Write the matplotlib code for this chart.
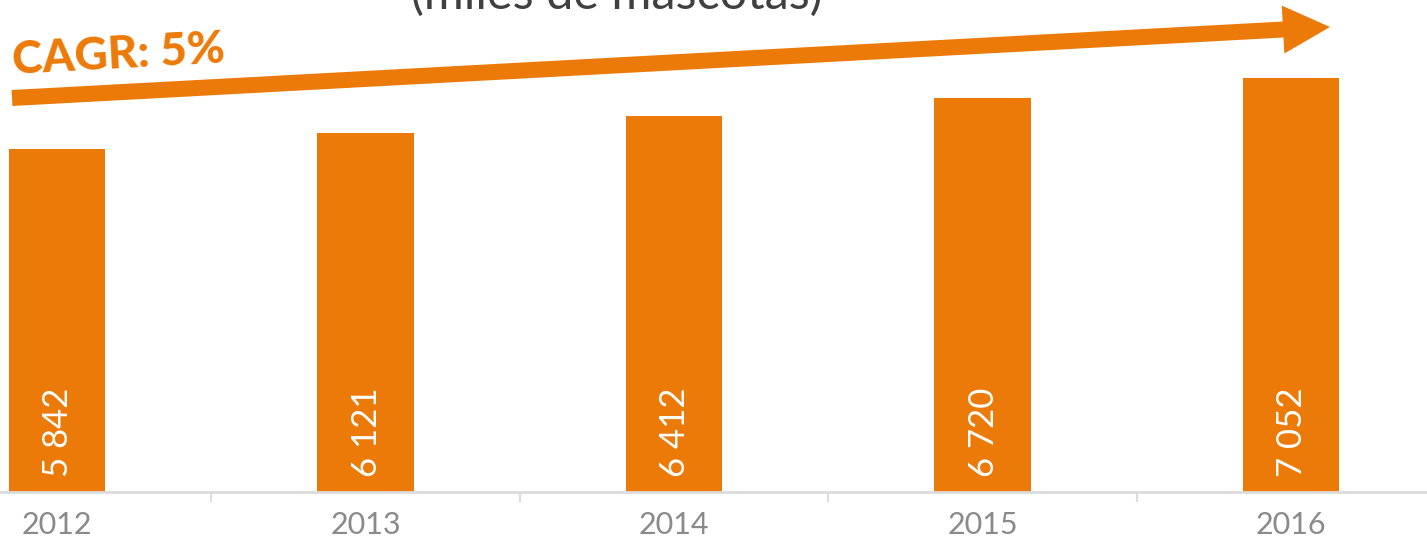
import matplotlib.pyplot as plt
from matplotlib.patches import FancyArrow

years = ["2012", "2013", "2014", "2015", "2016"]
pets = [5842, 6121, 6412, 6720, 7052]
title = "(miles de mascotas)"
cagr_label = "CAGR: 5%"

ORANGE = "#EC7A08"
GRID = "#dcdcdc"

plt.rcParams['font.family'] = ['Lato', 'DejaVu Sans']

fig = plt.figure(figsize=(14.27, 5.49), dpi=100)
ax = fig.add_axes([0, 57 / 549, 1, 492 / 549])

x = list(range(len(years)))
ax.bar(x, pets, width=0.312, color=ORANGE)

# values written inside each bar, bottom up
for xi, v in zip(x, pets):
    txt = f"{v:,}".replace(",", " ")
    ax.annotate(txt, (xi, 0), xytext=(1, 11), textcoords="offset points",
                rotation=90, ha="center", va="bottom", color="white",
                fontsize=25, fontweight="normal")

ax.set_xlim(-0.185, 4.441)
ax.set_ylim(0, 8382)
ax.set_xticks(x)
ax.set_xticklabels(years, fontsize=22, color="#8a8a8a", fontweight="normal")
ax.set_xticks([i + 0.5 for i in x[:-1]], minor=True)
ax.tick_params(axis="x", which="major", length=0, pad=14)
ax.tick_params(axis="x", which="minor", length=7, width=1.5, color=GRID)
ax.set_yticks([])
for side in ["top", "right", "left"]:
    ax.spines[side].set_visible(False)
ax.spines["bottom"].set_color(GRID)
ax.spines["bottom"].set_linewidth(2)

fig.text(617 / 1427, 1 - 9 / 549, title, ha="center", va="baseline",
         fontsize=35, color="#404040", fontweight="normal")

# growth arrow across the top, drawn in inches so it keeps its shape
arrow = FancyArrow(0.12, 4.51, 13.18, 0.71, width=0.16, head_width=0.48,
                   head_length=0.47, length_includes_head=True,
                   color=ORANGE, lw=0, transform=fig.dpi_scale_trans)
fig.add_artist(arrow)
fig.text(0.13, 4.75, cagr_label, transform=fig.dpi_scale_trans,
         rotation=3.1, rotation_mode="anchor", ha="left", va="baseline",
         fontsize=33, fontweight="black", color=ORANGE)

fig.savefig("out.png", dpi=100)
